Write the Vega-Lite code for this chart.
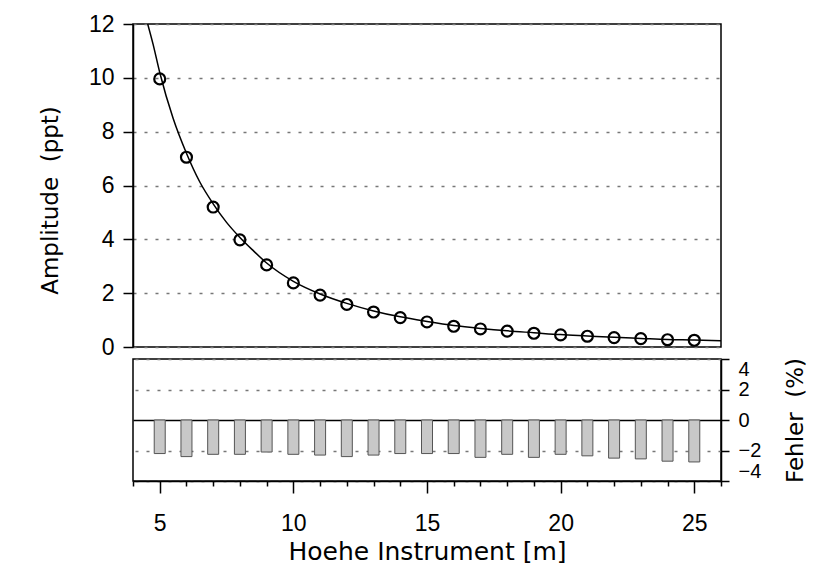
{
  "$schema": "https://vega.github.io/schema/vega-lite/v6.json",
  "padding": {"left": 38, "top": 12, "right": 8, "bottom": 8},
  "background": "white",
  "datasets": {
    "curve": [
      {"x": 4.55, "y": 12.0}, {"x": 4.75, "y": 11.25}, {"x": 5, "y": 10.2}, {"x": 5.5, "y": 8.5},
      {"x": 6, "y": 7.2}, {"x": 6.5, "y": 6.13}, {"x": 7, "y": 5.32}, {"x": 7.5, "y": 4.63},
      {"x": 8, "y": 4.07}, {"x": 8.5, "y": 3.58}, {"x": 9, "y": 3.12}, {"x": 10, "y": 2.44},
      {"x": 11, "y": 1.97}, {"x": 12, "y": 1.62}, {"x": 13, "y": 1.34}, {"x": 14, "y": 1.12},
      {"x": 15, "y": 0.95}, {"x": 16, "y": 0.8}, {"x": 17, "y": 0.69}, {"x": 18, "y": 0.6},
      {"x": 19, "y": 0.53}, {"x": 20, "y": 0.46}, {"x": 21, "y": 0.41}, {"x": 22, "y": 0.36},
      {"x": 23, "y": 0.32}, {"x": 24, "y": 0.28}, {"x": 25, "y": 0.26}, {"x": 26, "y": 0.23}
    ],
    "messung": [
      {"x": 5, "amplitude": 9.96, "fehler": -2.2},
      {"x": 6, "amplitude": 7.05, "fehler": -2.4},
      {"x": 7, "amplitude": 5.2, "fehler": -2.25},
      {"x": 8, "amplitude": 3.98, "fehler": -2.25},
      {"x": 9, "amplitude": 3.05, "fehler": -2.1},
      {"x": 10, "amplitude": 2.38, "fehler": -2.25},
      {"x": 11, "amplitude": 1.93, "fehler": -2.3},
      {"x": 12, "amplitude": 1.58, "fehler": -2.4},
      {"x": 13, "amplitude": 1.3, "fehler": -2.3},
      {"x": 14, "amplitude": 1.09, "fehler": -2.2},
      {"x": 15, "amplitude": 0.93, "fehler": -2.2},
      {"x": 16, "amplitude": 0.77, "fehler": -2.2},
      {"x": 17, "amplitude": 0.67, "fehler": -2.45},
      {"x": 18, "amplitude": 0.59, "fehler": -2.25},
      {"x": 19, "amplitude": 0.51, "fehler": -2.45},
      {"x": 20, "amplitude": 0.45, "fehler": -2.25},
      {"x": 21, "amplitude": 0.4, "fehler": -2.35},
      {"x": 22, "amplitude": 0.35, "fehler": -2.5},
      {"x": 23, "amplitude": 0.31, "fehler": -2.55},
      {"x": 24, "amplitude": 0.27, "fehler": -2.7},
      {"x": 25, "amplitude": 0.25, "fehler": -2.75}
    ]
  },
  "config": {
    "view": {"stroke": "black", "strokeWidth": 1.5},
    "axis": {
      "labelFont": "Liberation Sans", "labelFontSize": 23, "labelColor": "black",
      "titleFont": "DejaVu Sans", "titleFontSize": 22, "titleFontWeight": "normal", "titleColor": "black",
      "domainColor": "black", "domainWidth": 1.5, "tickColor": "black", "tickWidth": 1.5
    }
  },
  "spacing": 12,
  "bounds": "flush",
  "vconcat": [
    {
      "width": 588,
      "height": 323,
      "layer": [
        {
          "data": {"name": "curve"},
          "mark": {"type": "line", "color": "black", "strokeWidth": 1.5, "interpolate": "monotone", "clip": true},
          "encoding": {
            "x": {"field": "x", "type": "quantitative", "scale": {"domain": [4, 26], "nice": false, "zero": false, "padding": 0}, "axis": null},
            "y": {"field": "y", "type": "quantitative", "scale": {"domain": [0, 12], "nice": false},
              "axis": {"title": "Amplitude \u00a0(ppt)", "titleFontSize": 23, "values": [0, 2, 4, 6, 8, 10, 12], "grid": true,
                "gridDash": [3, 8], "gridColor": "#777777", "gridWidth": 1.3, "tickSize": 10, "labelPadding": 9, "titlePadding": 26, "titleY": 176}}
          }
        },
        {
          "data": {"name": "messung"},
          "mark": {"type": "point", "shape": "circle", "filled": false, "color": "black", "strokeWidth": 2.2, "size": 120, "opacity": 1},
          "encoding": {
            "x": {"field": "x", "type": "quantitative"},
            "y": {"field": "amplitude", "type": "quantitative"}
          }
        }
      ]
    },
    {
      "width": 588,
      "height": 122,
      "data": {"name": "messung"},
      "mark": {"type": "bar", "color": "#c8c8c8", "stroke": "#555555", "strokeWidth": 1, "size": 11},
      "encoding": {
        "x": {"field": "x", "type": "quantitative", "scale": {"domain": [4, 26], "nice": false, "zero": false, "padding": 0},
          "axis": {"title": "Hoehe Instrument [m]", "titleFontSize": 25, "grid": false,
            "values": [4, 5, 6, 7, 8, 9, 10, 11, 12, 13, 14, 15, 16, 17, 18, 19, 20, 21, 22, 23, 24, 25, 26],
            "tickSize": {"condition": {"test": "datum.value % 5 === 0", "value": 12}, "value": 5},
            "labelExpr": "datum.value % 5 === 0 ? datum.label : ''",
            "labelPadding": 19, "titlePadding": 4, "labelFlush": false}},
        "y": {"field": "fehler", "type": "quantitative", "scale": {"domain": [-4, 4], "nice": false},
          "axis": {"orient": "right", "title": "Fehler \u00a0(%)", "titleFontSize": 23, "values": [-4, -2, 0, 2, 4], "grid": true,
            "gridDash": {"condition": {"test": "datum.value === 0", "value": []}, "value": [3, 8]},
            "gridColor": {"condition": {"test": "datum.value === 0", "value": "black"}, "value": "#777777"},
            "gridWidth": {"condition": {"test": "datum.value === 0", "value": 1.5}, "value": 1.3},
            "tickSize": 8, "labelPadding": 9,
            "labelFlush": true, "labelOverlap": false, "labelFontSize": 20,
            "titleAngle": 270, "titleBaseline": "top", "titlePadding": 24}}
      }
    }
  ]
}
